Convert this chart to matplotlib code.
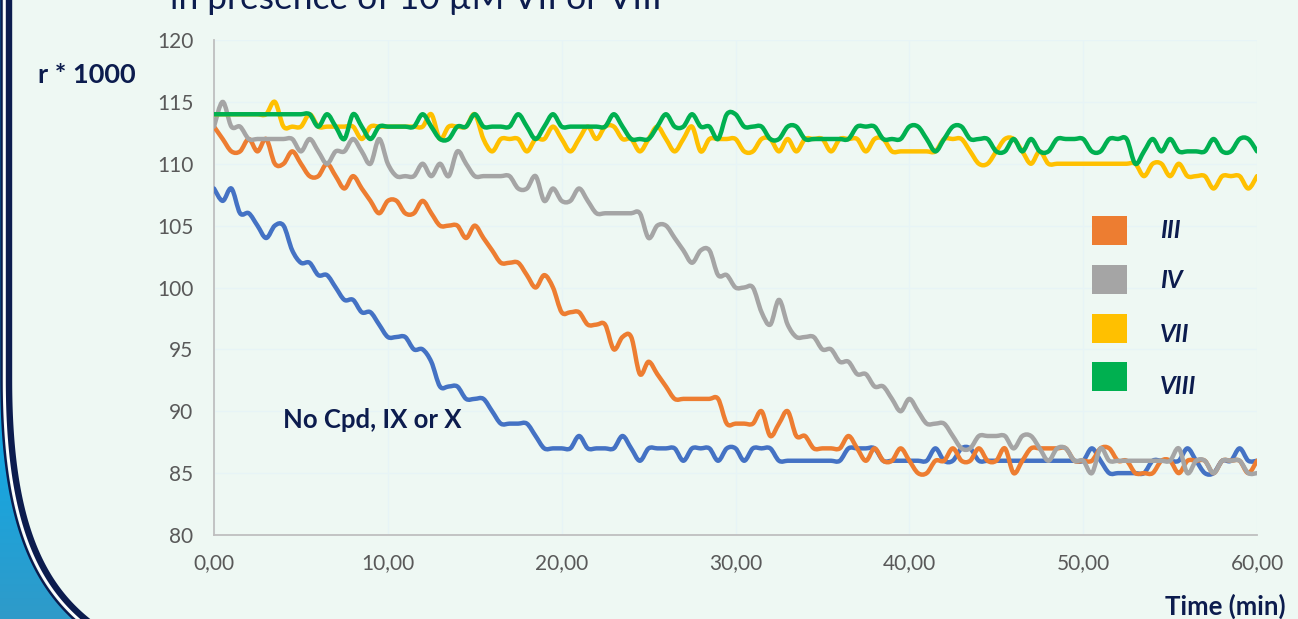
import numpy as np
import matplotlib
matplotlib.use('Agg')
import matplotlib.pyplot as plt
from matplotlib.path import Path
from matplotlib.patches import PathPatch, Rectangle
from matplotlib.colors import LinearSegmentedColormap

# ---------------- data (r*1000, every 0.5 min from 0 to 60) ----------------
no_cpd = [108,107,108,106,106,105,104,105,105,103,
          102,102,101,101,100,99,99,98,98,97,
          96,96,96,95,95,94,92,92,92,91,
          91,91,90,89,89,89,89,88,87,87,
          87,87,88,87,87,87,87,88,87,86,
          87,87,87,87,86,87,87,87,86,87,
          87,86,87,87,87,86,86,86,86,86,
          86,86,86,87,87,87,87,86,86,86,
          86,86,86,87,86,86,87,87,86,86,
          86,86,86,86,86,86,86,86,86,86,
          86,87,86,85,85,85,85,85,86,86,
          86,86,87,86,85,85,86,86,87,86,
          86]
s_III = [113,112,111,111,112,111,112,110,110,111,
         110,109,109,110,109,108,109,108,107,106,
         107,107,106,106,107,106,105,105,105,104,
         105,104,103,102,102,102,101,100,101,100,
         98,98,98,97,97,97,95,96,96,93,
         94,93,92,91,91,91,91,91,91,89,
         89,89,89,90,88,89,90,88,88,87,
         87,87,87,88,87,86,87,86,86,87,
         86,85,85,86,86,87,86,86,87,86,
         86,87,85,86,87,87,87,87,87,86,
         86,86,87,87,86,86,85,85,85,86,
         86,85,86,86,86,85,86,86,86,85,
         86]
s_IV = [113,115,113,113,112,112,112,112,112,112,
        111,112,111,110,111,111,112,111,110,112,
        110,109,109,109,110,109,110,109,111,110,
        109,109,109,109,109,108,108,109,107,108,
        107,107,108,107,106,106,106,106,106,106,
        104,105,105,104,103,102,103,103,101,101,
        100,100,100,98,97,99,97,96,96,96,
        95,95,94,94,93,93,92,92,91,90,
        91,90,89,89,89,88,87,87,88,88,
        88,88,87,88,88,87,86,87,87,86,
        86,85,87,86,86,86,86,86,86,86,
        86,87,85,86,86,85,86,86,86,85,
        85]
s_VII = [114,114,114,114,114,114,114,115,113,113,
         113,114,113,113,113,113,113,112,113,113,
         113,113,113,113,113,114,112,113,113,113,
         114,112,111,112,112,112,111,112,112,113,
         112,111,112,113,112,113,113,112,112,111,
         112,113,112,111,112,113,111,112,112,112,
         112,111,111,112,112,111,112,111,112,112,
         112,111,112,112,112,111,112,112,111,111,
         111,111,111,111,112,112,112,111,110,110,
         111,112,112,111,110,111,110,110,110,110,
         110,110,110,110,110,110,110,109,110,110,
         109,110,109,109,109,108,109,109,109,108,
         109]
s_VIII = [114,114,114,114,114,114,114,114,114,114,
          114,114,113,114,113,112,114,113,112,113,
          113,113,113,113,114,113,112,112,113,113,
          114,113,113,113,113,114,113,112,113,114,
          113,113,113,113,113,113,114,113,112,112,
          112,113,114,113,113,114,113,113,112,114,
          114,113,113,113,112,112,113,113,112,112,
          112,112,112,112,113,113,113,112,112,112,
          113,113,112,111,112,113,113,112,112,112,
          111,111,112,111,112,111,111,112,112,112,
          112,111,111,112,112,112,110,111,112,111,
          112,111,111,111,111,112,111,111,112,112,
          111]
time_step = 0.5
series = [no_cpd, s_III, s_IV, s_VII, s_VIII]
series_colors = ['#4472C4', '#ED7D31', '#A5A5A5', '#FFC000', '#00B050']
legend_names = ['III', 'IV', 'VII', 'VIII']
legend_colors = ['#ED7D31', '#A5A5A5', '#FFC000', '#00B050']
y_ticks = [80, 85, 90, 95, 100, 105, 110, 115, 120]
x_ticks = [0, 10, 20, 30, 40, 50, 60]
x_labels = ['0,00', '10,00', '20,00', '30,00', '40,00', '50,00', '60,00']

# ---------------- style ----------------
W, H = 1298, 619
BG = '#EEF8F3'
NAVY = '#0C1C4E'
FONT = ['Lato', 'DejaVu Sans']
plt.rcParams['font.family'] = FONT

fig = plt.figure(figsize=(W / 100, H / 100), dpi=100)
fig.patch.set_facecolor(BG)

ax = fig.add_axes([214 / W, 1 - 535 / H, (1257 - 214) / W, (535 - 40) / H])
ax.set_facecolor(BG)
ax.set_xlim(0, 60)
ax.set_ylim(80, 120)
ax.set_yticks(y_ticks)
ax.set_xticks(x_ticks)
ax.set_xticklabels(x_labels)
ax.tick_params(axis='both', length=0, labelsize=15, labelcolor='#595959')
ax.tick_params(axis='y', pad=15)
ax.tick_params(axis='x', pad=13)
ax.grid(True, color='#E7F4F6', lw=1)
ax.set_axisbelow(True)
for s in ['top', 'right']:
    ax.spines[s].set_visible(False)
for s in ['left', 'bottom']:
    ax.spines[s].set_color('#BFBFBF')
    ax.spines[s].set_linewidth(1.3)


def smooth_path(x, y):
    pts = np.column_stack([x, y]).astype(float)
    n = len(pts)
    verts = [pts[0]]
    codes = [Path.MOVETO]
    for i in range(n - 1):
        p0 = pts[i - 1] if i > 0 else pts[i]
        p1 = pts[i]
        p2 = pts[i + 1]
        p3 = pts[i + 2] if i + 2 < n else pts[i + 1]
        verts += [p1 + (p2 - p0) / 6.0, p2 - (p3 - p1) / 6.0, p2]
        codes += [Path.CURVE4] * 3
    return Path(verts, codes)


for vals, col in zip(series, series_colors):
    t = np.arange(len(vals)) * time_step
    ax.add_patch(PathPatch(smooth_path(t, vals), fill=False, edgecolor=col,
                           lw=3.2, capstyle='round', joinstyle='round', zorder=3))

ax.text(9.1, 89.3, 'No Cpd, IX or X', fontsize=18.5, fontweight='bold',
        color=NAVY, ha='center', va='center')

# ---------------- overlay in pixel coordinates ----------------
ov = fig.add_axes([0, 0, 1, 1])
ov.set_xlim(0, W)
ov.set_ylim(H, 0)
ov.axis('off')
ov.patch.set_alpha(0)

# legend
sq_tops = [216, 265, 314, 362]
lab_y = [230, 281, 334, 387]
for name, col, top, ly in zip(legend_names, legend_colors, sq_tops, lab_y):
    ov.add_patch(Rectangle((1092, top), 35, 29, facecolor=col, edgecolor='none'))
    ov.text(1160, ly, name, fontsize=17.5, fontweight='bold', fontstyle='italic',
            color=NAVY, ha='left', va='center')

ov.text(87, 75, 'r * 1000', fontsize=19.5, fontweight='bold', color=NAVY,
        ha='center', va='center')
ov.text(1225, 606, 'Time (min)', fontsize=18.5, fontweight='bold', color=NAVY,
        ha='center', va='center')
ov.text(170, 9, 'in presence of 10 µM VII or VIII', fontsize=25.5, color=NAVY,
        ha='left', va='baseline', clip_on=False)

# left decorative border
def bez(p0, p1, p2, p3, n=80):
    s = np.linspace(0, 1, n)[:, None]
    return ((1 - s) ** 3) * p0 + 3 * ((1 - s) ** 2) * s * p1 + 3 * (1 - s) * s ** 2 * p2 + s ** 3 * p3

top = np.column_stack([np.full(40, 9.0), np.linspace(-10, 380, 40)])
curve = bez(np.array([9.0, 380]), np.array([9.0, 520]), np.array([40.0, 588]), np.array([97.0, 628]))
cpts = np.vstack([top, curve[1:]])
d = np.gradient(cpts, axis=0)
d /= np.linalg.norm(d, axis=1)[:, None]
nrm = np.column_stack([d[:, 1], -d[:, 0]])
if nrm[0, 0] > 0:
    nrm = -nrm

def off(k):
    return cpts + nrm * k

thin = off(7.5)
fill_poly = np.vstack([[[-20, -20]], thin, [[-20, 640]]])
grad = np.linspace(0, 1, 256)[:, None]
cmap = LinearSegmentedColormap.from_list('b', ['#1492D8', '#00B2F0', '#11A9E6', '#3299C6'])
im = ov.imshow(grad, extent=[-20, 140, 640, -20], cmap=cmap, aspect='auto', zorder=1)
clip = PathPatch(Path(fill_poly), transform=ov.transData, facecolor='none', edgecolor='none')
ov.add_patch(clip)
im.set_clip_path(clip)
ov.plot(thin[:, 0], thin[:, 1], color=NAVY, lw=1.8, zorder=2, solid_capstyle='butt')
w = off(4.3)
ov.plot(w[:, 0], w[:, 1], color='white', lw=1.6, zorder=2)
ov.plot(cpts[:, 0], cpts[:, 1], color=NAVY, lw=4.6, zorder=2)
ov.set_xlim(0, W)
ov.set_ylim(H, 0)

fig.savefig('out.png', dpi=100, facecolor=BG)
